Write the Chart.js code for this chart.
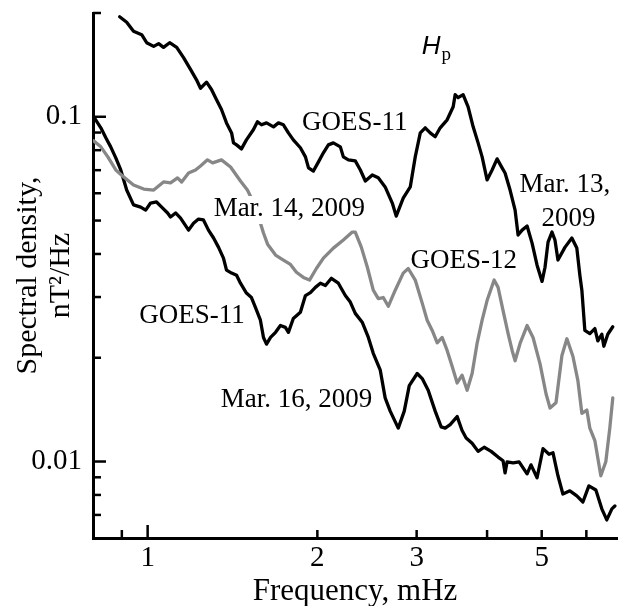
<!DOCTYPE html>
<html><head><meta charset="utf-8">
<script src="https://cdn.jsdelivr.net/npm/chart.js@4.4.1/dist/chart.umd.min.js"></script>
<style>html,body{margin:0;padding:0;background:#fff;}canvas{display:block;}</style>
</head><body>
<canvas id="c" width="624" height="606"></canvas>
<script>
// ---- Data (frequency in mHz, spectral density in nT^2/Hz) ----
const mar13Freq = [0.892,0.918,0.944,0.976,0.996,1.025,1.046,1.067,1.094,1.126,1.158,1.192,1.221,1.241,1.272,1.298,1.325,1.352,1.380,1.409,1.420,1.438,1.467,1.497,1.540,1.566,1.592,1.625,1.672,1.706,1.741,1.777,1.813,1.866,1.905,1.929,1.968,2.009,2.050,2.092,2.135,2.197,2.224,2.270,2.335,2.384,2.433,2.503,2.565,2.638,2.716,2.760,2.840,2.923,2.983,3.045,3.107,3.171,3.236,3.303,3.398,3.483,3.511,3.554,3.627,3.702,3.779,3.856,3.920,4.000,4.083,4.167,4.253,4.305,4.394,4.485,4.540,4.615,4.710,4.807,4.906,5.007,5.068,5.131,5.214,5.278,5.343,5.497,5.655,5.771,5.843,5.891,5.963,6.086,6.212,6.288,6.391,6.444,6.549,6.684];
const mar13Goes11 = [0.195,0.188,0.177,0.173,0.164,0.160,0.163,0.159,0.164,0.159,0.1485,0.137,0.128,0.121,0.126,0.120,0.112,0.105,0.096,0.0898,0.084,0.0829,0.0807,0.0857,0.0917,0.0967,0.0948,0.096,0.0935,0.096,0.0948,0.0898,0.0857,0.0813,0.0765,0.0711,0.0696,0.074,0.0786,0.0829,0.084,0.0818,0.0765,0.075,0.0745,0.0701,0.0651,0.0678,0.0665,0.0626,0.0562,0.0515,0.0581,0.0626,0.0765,0.0898,0.0929,0.0898,0.0875,0.0929,0.098,0.1069,0.1159,0.1136,0.1159,0.1069,0.0935,0.084,0.0765,0.0656,0.0701,0.0755,0.0711,0.0687,0.0613,0.0536,0.0454,0.0469,0.0482,0.043,0.0371,0.0333,0.0366,0.0433,0.0463,0.0439,0.0384,0.0418,0.0445,0.0416,0.0347,0.0314,0.024,0.0235,0.0243,0.0224,0.0234,0.0216,0.0234,0.0246];

const mar14Freq = [0.802,0.826,0.850,0.878,0.907,0.944,0.984,1.025,1.067,1.098,1.130,1.149,1.182,1.216,1.241,1.277,1.304,1.352,1.403,1.461,1.503,1.534,1.573,1.605,1.632,1.686,1.741,1.792,1.836,1.889,1.937,1.992,2.050,2.135,2.224,2.307,2.335,2.394,2.453,2.513,2.565,2.618,2.672,2.749,2.840,2.899,2.983,3.069,3.132,3.197,3.263,3.330,3.398,3.468,3.540,3.612,3.687,3.763,3.840,3.920,4.000,4.117,4.184,4.270,4.359,4.431,4.485,4.577,4.710,4.826,4.966,5.090,5.173,5.300,5.430,5.542,5.679,5.795,5.891,6.012,6.086,6.212,6.365,6.496,6.603,6.684];
const mar14Goes12 = [0.0852,0.0818,0.0765,0.0701,0.0669,0.0634,0.0617,0.0613,0.0647,0.0643,0.0665,0.0647,0.0687,0.0701,0.072,0.075,0.0735,0.075,0.0715,0.0651,0.0613,0.0573,0.0512,0.046,0.0427,0.0397,0.0384,0.0373,0.0354,0.0342,0.0336,0.0363,0.0389,0.0416,0.0439,0.0463,0.0463,0.0418,0.0366,0.0314,0.0297,0.0299,0.0282,0.0314,0.0352,0.0363,0.0336,0.0288,0.0257,0.024,0.0221,0.0229,0.021,0.0189,0.0169,0.0178,0.0161,0.018,0.022,0.0257,0.0293,0.0336,0.032,0.0274,0.0235,0.021,0.0196,0.022,0.0248,0.0229,0.0192,0.0157,0.0143,0.0148,0.0203,0.0227,0.0202,0.0172,0.0138,0.0141,0.0125,0.0115,0.00909,0.00998,0.0125,0.0153];

const mar16Freq = [0.802,0.826,0.843,0.860,0.878,0.896,0.918,0.944,0.972,0.992,1.012,1.037,1.059,1.085,1.098,1.121,1.144,1.182,1.206,1.231,1.256,1.282,1.309,1.336,1.363,1.380,1.409,1.438,1.461,1.497,1.528,1.553,1.585,1.605,1.625,1.652,1.686,1.720,1.755,1.777,1.813,1.866,1.905,1.944,1.984,2.025,2.067,2.118,2.179,2.242,2.288,2.335,2.404,2.463,2.513,2.586,2.638,2.693,2.783,2.852,2.911,3.007,3.069,3.145,3.236,3.316,3.371,3.440,3.540,3.612,3.672,3.763,3.856,3.953,4.067,4.184,4.270,4.305,4.341,4.449,4.559,4.710,4.786,4.906,5.027,5.152,5.236,5.343,5.452,5.610,5.771,5.916,6.062,6.238,6.391,6.522,6.659,6.741];
const mar16Goes11 = [0.1,0.0929,0.0869,0.0818,0.076,0.0701,0.0613,0.0555,0.0547,0.0536,0.0562,0.0566,0.0547,0.0526,0.0512,0.0526,0.0508,0.0469,0.0491,0.0505,0.0502,0.0469,0.0445,0.0418,0.0389,0.0359,0.0352,0.0347,0.0329,0.0308,0.0299,0.028,0.0257,0.0229,0.0219,0.0229,0.0237,0.0248,0.0245,0.0237,0.026,0.0271,0.0303,0.0309,0.032,0.0329,0.0324,0.034,0.0329,0.0303,0.029,0.0269,0.0253,0.0229,0.0206,0.0184,0.0153,0.014,0.0125,0.014,0.0166,0.018,0.0174,0.0161,0.014,0.0126,0.0125,0.0128,0.0135,0.0123,0.0117,0.0113,0.0107,0.011,0.0107,0.0103,0.01005,0.00927,0.00998,0.00991,0.00998,0.00921,0.00978,0.00897,0.0109,0.0105,0.0106,0.00909,0.00805,0.00822,0.00795,0.00763,0.0085,0.00827,0.00729,0.00677,0.00729,0.00743];

// ---- Ticks ----
const xTickValues = [0.9, 1, 2, 3, 4, 5, 6];
const xTickLabelled = [1, 2, 3, 5];
const xMajorTicks = [1];
const yTickValues = [0.007, 0.008, 0.009, 0.01, 0.02, 0.03, 0.04, 0.05, 0.06, 0.07, 0.08, 0.09, 0.1, 0.2];
const yTickLabelled = [0.01, 0.1];
const yMajorTicks = [0.01, 0.1];

// ---- Text labels placed in data coordinates ----
const annotations = [
  {text: 'GOES-11', f: 2.331, v: 0.0960},
  {text: 'Mar. 13,', f: 5.497, v: 0.0634},
  {text: '2009', f: 5.576, v: 0.0505},
  {text: 'Mar. 14, 2009', f: 1.784, v: 0.0540, bg: true},
  {text: 'GOES-12', f: 3.635, v: 0.0381},
  {text: 'GOES-11', f: 1.199, v: 0.0265},
  {text: 'Mar. 16, 2009', f: 1.836, v: 0.0151}
];
const panelLabel = {main: 'H', sub: 'p', f: 3.184, v: 0.161};

const SERIF = '"Liberation Serif", "Times New Roman", serif';
Chart.defaults.font.family = SERIF;
Chart.defaults.color = '#000';

const pts = (fs, vs) => fs.map((f, i) => ({x: f, y: vs[i]}));

const tickMarks = {
  id: 'tickMarks',
  afterDraw(chart) {
    const {ctx, chartArea: a, scales: {x, y}} = chart;
    ctx.save();
    ctx.strokeStyle = '#000';
    ctx.lineWidth = 2.5;
    xTickValues.forEach(v => {
      const p = x.getPixelForValue(v);
      const len = xMajorTicks.includes(v) ? 13 : 8;
      ctx.beginPath(); ctx.moveTo(p, a.bottom); ctx.lineTo(p, a.bottom - len); ctx.stroke();
    });
    yTickValues.forEach(v => {
      const p = y.getPixelForValue(v);
      const len = yMajorTicks.includes(v) ? 13 : 8;
      ctx.beginPath(); ctx.moveTo(a.left, p); ctx.lineTo(a.left + len, p); ctx.stroke();
    });
    ctx.restore();
  }
};

const textLabels = {
  id: 'textLabels',
  afterDatasetsDraw(chart) {
    const {ctx, scales: {x, y}} = chart;
    ctx.save();
    ctx.font = '27px ' + SERIF;
    ctx.textAlign = 'center';
    ctx.textBaseline = 'middle';
    annotations.forEach(a => {
      const px = x.getPixelForValue(a.f), py = y.getPixelForValue(a.v);
      if (a.bg) {
        const w = ctx.measureText(a.text).width;
        ctx.fillStyle = '#fff';
        ctx.fillRect(px - w / 2 - 3, py - 13, w + 6, 28);
      }
      ctx.fillStyle = '#000';
      ctx.fillText(a.text, px, py);
    });
    const hx = x.getPixelForValue(panelLabel.f), hy = y.getPixelForValue(panelLabel.v);
    ctx.textAlign = 'left';
    ctx.textBaseline = 'alphabetic';
    ctx.font = 'italic 26px "Liberation Sans", Arial, sans-serif';
    const hw = ctx.measureText(panelLabel.main).width;
    ctx.fillText(panelLabel.main, hx - hw / 2, hy + 9);
    ctx.font = '19px ' + SERIF;
    ctx.fillText(panelLabel.sub, hx + hw / 2 + 1, hy + 15);
    ctx.restore();
  }
};

const lineStyle = {borderWidth: 3.3, pointRadius: 0, tension: 0, fill: false, borderJoinStyle: 'round', borderCapStyle: 'round'};

new Chart(document.getElementById('c'), {
  type: 'line',
  data: {
    datasets: [
      Object.assign({label: 'Mar. 14, 2009 GOES-12', data: pts(mar14Freq, mar14Goes12), borderColor: '#878787'}, lineStyle),
      Object.assign({label: 'Mar. 13, 2009 GOES-11', data: pts(mar13Freq, mar13Goes11), borderColor: '#000'}, lineStyle),
      Object.assign({label: 'Mar. 16, 2009 GOES-11', data: pts(mar16Freq, mar16Goes11), borderColor: '#000'}, lineStyle)
    ]
  },
  options: {
    responsive: false,
    animation: false,
    devicePixelRatio: 1,
    layout: {padding: {top: 13, right: 7, left: 0, bottom: 0}},
    plugins: {legend: {display: false}, tooltip: {enabled: false}},
    scales: {
      x: {
        type: 'logarithmic', min: 0.8, max: 6.8,
        afterBuildTicks: s => { s.ticks = xTickValues.map(v => ({value: v})); },
        afterFit: s => { s.height = 68; s.paddingLeft = 0; s.paddingRight = 0; },
        grid: {display: false, drawTicks: false},
        border: {display: true, color: '#000', width: 3},
        ticks: {
          autoSkip: false, maxRotation: 0, minRotation: 0, padding: 6,
          font: {size: 29, lineHeight: 1},
          callback: v => xTickLabelled.includes(v) ? String(v) : ''
        },
        title: {display: true, text: 'Frequency, mHz', font: {size: 31, lineHeight: 0.9}, padding: {top: 0, bottom: 0}}
      },
      y: {
        type: 'logarithmic', min: 0.006, max: 0.2,
        afterBuildTicks: s => { s.ticks = yTickValues.map(v => ({value: v})); },
        afterFit: s => { s.width = 93; s.paddingTop = 0; s.paddingBottom = 0; },
        grid: {display: false, drawTicks: false},
        border: {display: true, color: '#000', width: 3},
        ticks: {
          autoSkip: false, padding: 11,
          font: {size: 29, lineHeight: 1},
          callback: v => yTickLabelled.includes(v) ? String(v) : ''
        },
        title: {display: true, text: ['Spectral density,', 'nT\u00B2/Hz'], font: {size: 30, lineHeight: 1.1}, padding: {top: 11.5, bottom: 0}}
      }
    }
  },
  plugins: [tickMarks, textLabels]
});
</script>
</body></html>
